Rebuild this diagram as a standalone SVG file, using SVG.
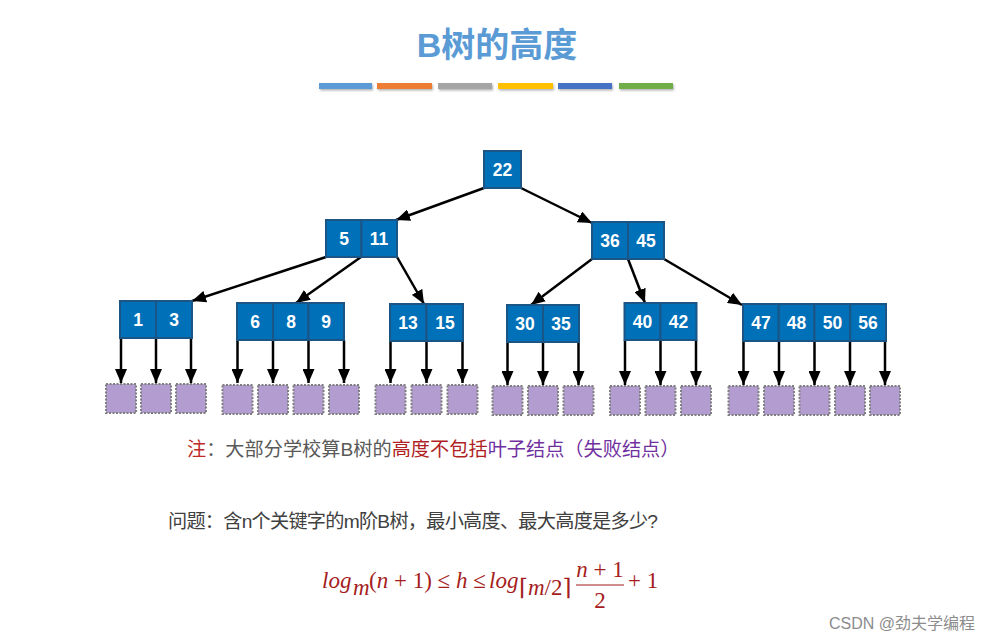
<svg xmlns="http://www.w3.org/2000/svg" width="992" height="642" viewBox="0 0 992 642">
<defs>
<marker id="ah" markerUnits="userSpaceOnUse" markerWidth="15" markerHeight="12" refX="14" refY="6" orient="auto">
<path d="M0,0 L14,6 L0,12 Z" fill="#000"/>
</marker>
<filter id="sh" x="-10%" y="-50%" width="120%" height="250%">
<feDropShadow dx="1" dy="1.5" stdDeviation="1" flood-color="#000" flood-opacity="0.3"/>
</filter>
</defs>
<style>
.cell{fill:#0070b8;stroke:#1b5585;stroke-width:2}
.k{font-family:"Liberation Sans",Arial,sans-serif;font-weight:bold;font-size:17.5px;fill:#fff;text-anchor:middle}
.leaf{fill:#b39ccf;stroke:#7f7f7f;stroke-width:2;stroke-dasharray:2,1.5}
.e{stroke:#000;stroke-width:2.5;fill:none;marker-end:url(#ah)}
.cn{font-family:"Liberation Sans","Noto Sans CJK SC",sans-serif;font-size:19.2px}
.m{font-family:"Liberation Serif","DejaVu Serif",serif;fill:#a51d1d;font-size:23px;text-anchor:start}
.i{font-style:italic}
</style>
<rect width="992" height="642" fill="#fff"/>
<g id="title">
<text x="497" y="57" text-anchor="middle" font-family="Liberation Sans,'Noto Sans CJK SC',sans-serif" font-weight="bold" font-size="34" fill="#5b9bd5">B树的高度</text>
<g filter="url(#sh)">
<rect x="319" y="83" width="53" height="6" fill="#5b9bd5"/>
<rect x="377" y="83" width="55" height="6" fill="#ed7d31"/>
<rect x="438" y="83" width="54" height="6" fill="#a5a5a5"/>
<rect x="498" y="83" width="55" height="6" fill="#ffc000"/>
<rect x="558" y="83" width="54" height="6" fill="#4472c4"/>
<rect x="619" y="83" width="54" height="6" fill="#70ad47"/>
</g>
</g>
<g id="connectors">
<line class="e" x1="484" y1="188" x2="396" y2="220"/>
<line class="e" x1="521" y1="188" x2="592" y2="223"/>
<line class="e" x1="326" y1="257" x2="192" y2="301"/>
<line class="e" x1="361" y1="257" x2="296" y2="303"/>
<line class="e" x1="397" y1="257" x2="424" y2="304"/>
<line class="e" x1="592" y1="259" x2="531" y2="305"/>
<line class="e" x1="628" y1="259" x2="645" y2="303"/>
<line class="e" x1="664" y1="259" x2="742" y2="305"/>
<line class="e" x1="121" y1="338" x2="121" y2="383"/>
<line class="e" x1="156" y1="338" x2="156" y2="383"/>
<line class="e" x1="191" y1="338" x2="191" y2="383"/>
<line class="e" x1="237.5" y1="340" x2="237.5" y2="383"/>
<line class="e" x1="273" y1="340" x2="273" y2="383"/>
<line class="e" x1="308.5" y1="340" x2="308.5" y2="383"/>
<line class="e" x1="344" y1="340" x2="344" y2="383"/>
<line class="e" x1="390.5" y1="341" x2="390.5" y2="383"/>
<line class="e" x1="426.5" y1="341" x2="426.5" y2="383"/>
<line class="e" x1="462.5" y1="341" x2="462.5" y2="383"/>
<line class="e" x1="507.5" y1="342" x2="507.5" y2="385"/>
<line class="e" x1="543" y1="342" x2="543" y2="385"/>
<line class="e" x1="578.5" y1="342" x2="578.5" y2="385"/>
<line class="e" x1="625" y1="340" x2="625" y2="385"/>
<line class="e" x1="660.5" y1="340" x2="660.5" y2="385"/>
<line class="e" x1="696" y1="340" x2="696" y2="385"/>
<line class="e" x1="743.5" y1="341" x2="743.5" y2="385"/>
<line class="e" x1="779" y1="341" x2="779" y2="385"/>
<line class="e" x1="814.5" y1="341" x2="814.5" y2="385"/>
<line class="e" x1="850" y1="341" x2="850" y2="385"/>
<line class="e" x1="885" y1="341" x2="885" y2="385"/>
</g>
<g id="n22"><rect class="cell" x="484" y="151" width="37" height="37"/><text class="k" x="502.5" y="176">22</text></g>
<g id="n5_11">
<rect class="cell" x="326" y="220" width="35.5" height="37"/><rect class="cell" x="361.5" y="220" width="35.5" height="37"/>
<text class="k" x="344" y="245">5</text><text class="k" x="379" y="245">11</text></g>
<g id="n36_45">
<rect class="cell" x="592" y="222" width="36" height="37"/><rect class="cell" x="628" y="222" width="36" height="37"/>
<text class="k" x="610" y="247">36</text><text class="k" x="646" y="247">45</text></g>
<g id="n1_3">
<rect class="cell" x="120" y="301" width="36" height="37"/><rect class="cell" x="156" y="301" width="36" height="37"/>
<text class="k" x="138" y="326">1</text><text class="k" x="174" y="326">3</text></g>
<g id="n6_8_9">
<rect class="cell" x="237" y="303" width="36" height="37"/><rect class="cell" x="273" y="303" width="35.5" height="37"/><rect class="cell" x="308.5" y="303" width="35.5" height="37"/>
<text class="k" x="255" y="328">6</text><text class="k" x="291" y="328">8</text><text class="k" x="326" y="328">9</text></g>
<g id="n13_15">
<rect class="cell" x="390" y="304" width="36.5" height="37"/><rect class="cell" x="426.5" y="304" width="36.5" height="37"/>
<text class="k" x="408" y="329">13</text><text class="k" x="445" y="329">15</text></g>
<g id="n30_35">
<rect class="cell" x="507" y="305" width="36" height="37"/><rect class="cell" x="543" y="305" width="36" height="37"/>
<text class="k" x="525" y="330">30</text><text class="k" x="561" y="330">35</text></g>
<g id="n40_42">
<rect class="cell" x="624.5" y="303" width="36" height="37"/><rect class="cell" x="660.5" y="303" width="36" height="37"/>
<text class="k" x="642.5" y="328">40</text><text class="k" x="678.5" y="328">42</text></g>
<g id="n47_56">
<rect class="cell" x="743" y="304" width="35.75" height="37"/><rect class="cell" x="778.75" y="304" width="35.75" height="37"/><rect class="cell" x="814.5" y="304" width="35.75" height="37"/><rect class="cell" x="850.25" y="304" width="35.75" height="37"/>
<text class="k" x="761" y="329">47</text><text class="k" x="796.5" y="329">48</text><text class="k" x="832.5" y="329">50</text><text class="k" x="868" y="329">56</text></g>
<g id="leaves">
<rect class="leaf" x="106" y="384" width="30" height="29"/>
<rect class="leaf" x="141" y="384" width="30" height="29"/>
<rect class="leaf" x="176" y="384" width="30" height="29"/>
<rect class="leaf" x="222.5" y="385" width="30" height="29"/>
<rect class="leaf" x="258" y="385" width="30" height="29"/>
<rect class="leaf" x="293.5" y="385" width="30" height="29"/>
<rect class="leaf" x="329" y="385" width="30" height="29"/>
<rect class="leaf" x="375.5" y="385" width="30" height="29"/>
<rect class="leaf" x="411.5" y="385" width="30" height="29"/>
<rect class="leaf" x="447.5" y="385" width="30" height="29"/>
<rect class="leaf" x="492.5" y="386" width="30" height="29"/>
<rect class="leaf" x="528" y="386" width="30" height="29"/>
<rect class="leaf" x="563.5" y="386" width="30" height="29"/>
<rect class="leaf" x="610" y="386" width="30" height="29"/>
<rect class="leaf" x="645.5" y="386" width="30" height="29"/>
<rect class="leaf" x="681" y="386" width="30" height="29"/>
<rect class="leaf" x="728.5" y="386" width="30" height="29"/>
<rect class="leaf" x="764" y="386" width="30" height="29"/>
<rect class="leaf" x="799.5" y="386" width="30" height="29"/>
<rect class="leaf" x="835" y="386" width="30" height="29"/>
<rect class="leaf" x="870" y="386" width="30" height="29"/>
</g>
<g id="note">
<text class="cn" x="187" y="456" fill="#595959"><tspan fill="#c0282a">注</tspan>：大部分学校算B树的<tspan fill="#b01f24">高度不包括</tspan><tspan fill="#7030a0">叶子结点（失败结点）</tspan></text>
</g>
<g id="question">
<text class="cn" x="168" y="528" fill="#404040" font-size="19" textLength="490">问题：含n个关键字的m阶B树，最小高度、最大高度是多少?</text>
</g>
<g id="formula">
<text class="m i" x="322" y="588">log</text>
<text class="m i" x="353" y="595" font-size="16">m</text>
<text class="m" x="369" y="588">(<tspan class="i">n</tspan> + 1) ≤ <tspan class="i">h</tspan> ≤</text>
<text class="m i" x="489" y="588">log</text>
<text class="m" x="519" y="595" font-size="13">⌈<tspan class="i">m</tspan>/2⌉</text>
<text class="m" x="600" y="577" style="text-anchor:middle"><tspan class="i">n</tspan> + 1</text>
<line x1="576" y1="585" x2="624" y2="585" stroke="#a51d1d" stroke-width="1.2"/>
<text class="m" x="600" y="608" style="text-anchor:middle">2</text>
<text class="m" x="628" y="588">+ 1</text>
</g>
<g id="watermark">
<text x="975" y="629" text-anchor="end" font-family="Liberation Sans,'Noto Sans CJK SC',sans-serif" font-size="16" fill="#8c8c8c" stroke="#fff" stroke-width="2" paint-order="stroke">CSDN @劲夫学编程</text>
</g>
</svg>
